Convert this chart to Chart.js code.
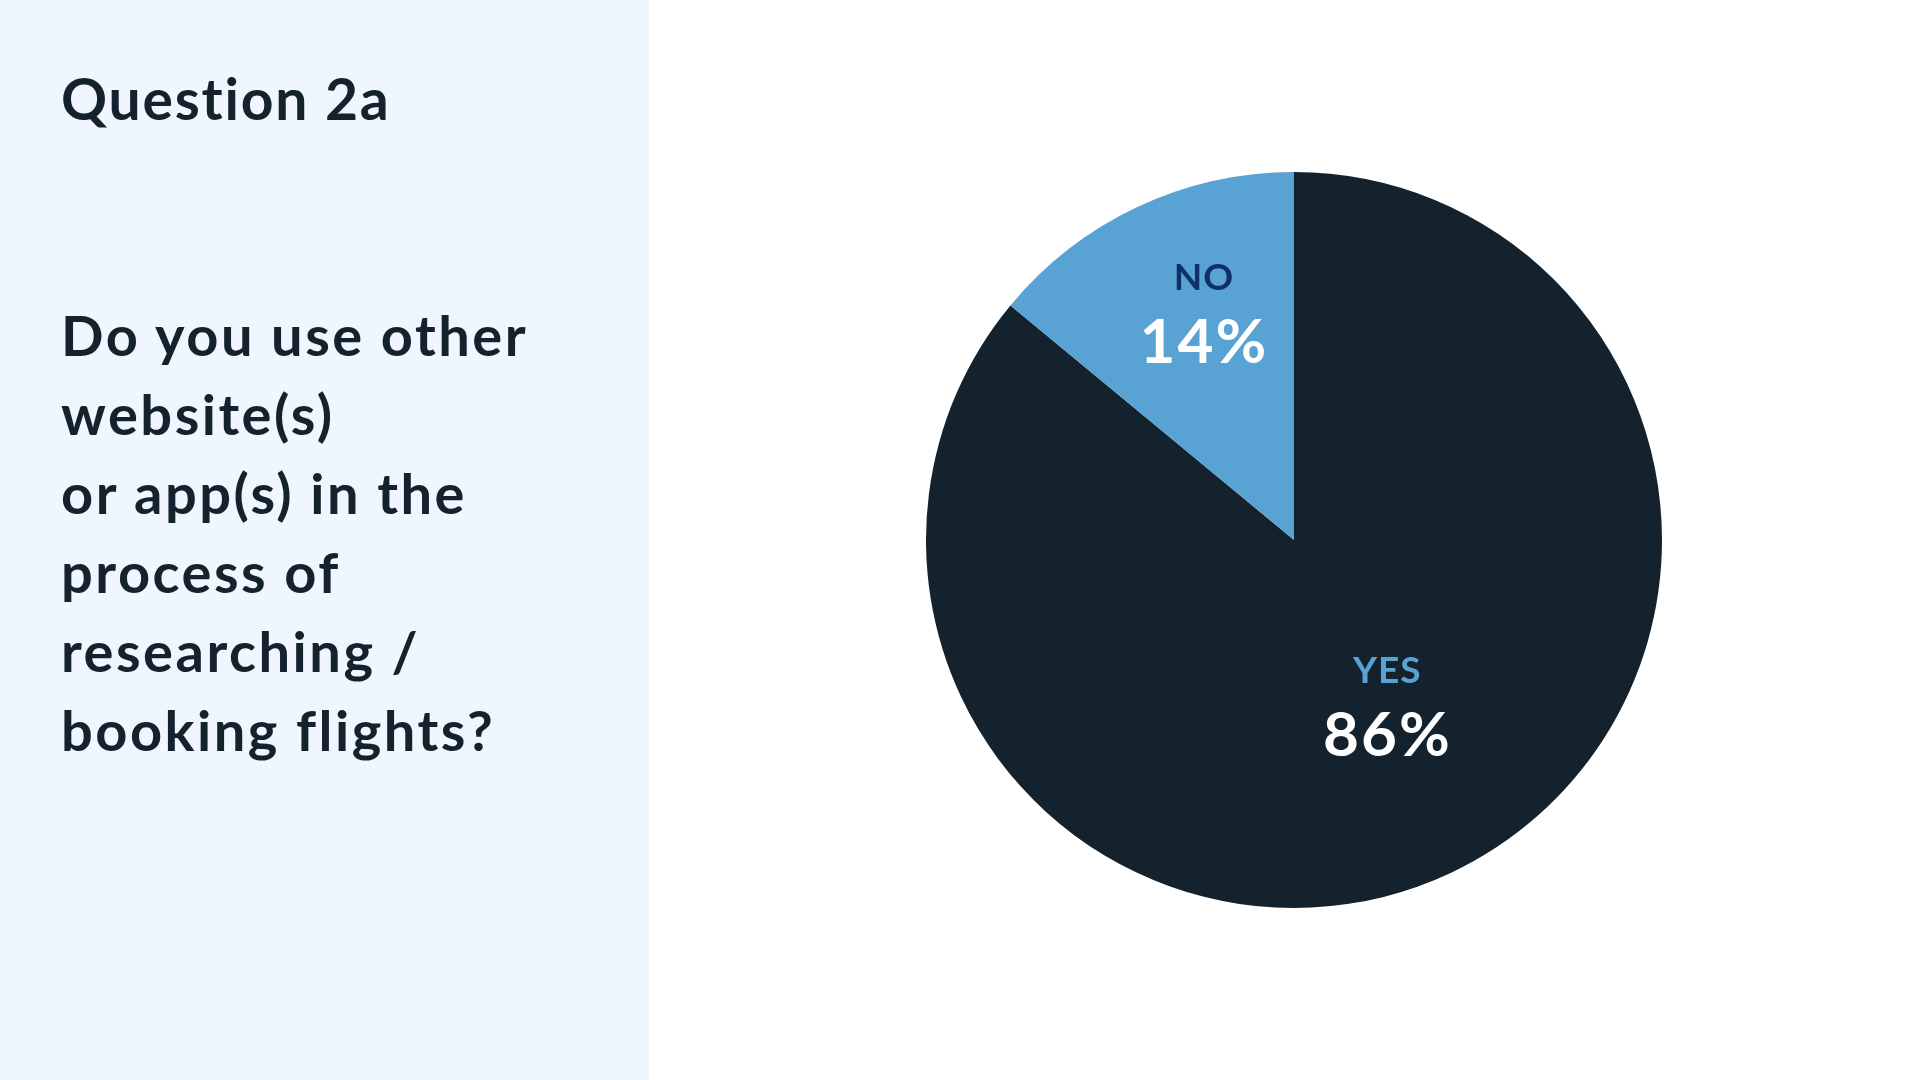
<!DOCTYPE html>
<html>
<head>
<meta charset="utf-8">
<script src="https://cdn.jsdelivr.net/npm/chart.js@4"></script>
<style>
  html, body { margin: 0; padding: 0; background: #ffffff; }
  body { width: 1920px; height: 1080px; position: relative; overflow: hidden; font-family: Lato, "Open Sans", sans-serif; color: #14222e; font-variant-ligatures: none; }
  .side { position: absolute; left: 0; top: 0; width: 649px; height: 1080px; background: #f0f6fd; }
  .title { position: absolute; left: 61px; top: 63px; font-size: 57px; font-weight: 700; line-height: 70px; margin: 0; letter-spacing: 1.8px; }
  .question { position: absolute; left: 61px; top: 295px; font-size: 56px; font-weight: 700; line-height: 79px; margin: 0; letter-spacing: 2.5px; }
  #pieChart { position: absolute; left: 926px; top: 172px; }
</style>
</head>
<body>
<div class="side">
  <h1 class="title">Question 2a</h1>
  <p class="question">Do you use other<br>website(s)<br>or app(s) in the<br>process of<br>researching /<br>booking flights?</p>
</div>
<canvas id="pieChart" width="736" height="736"></canvas>
<script>
const answers = ['YES', 'NO'];
const shares = [86, 14];
const sliceColors = ['#14222e', '#59a3d4'];
const nameColors = ['#59a3d4', '#10306a'];

// draws the answer name and the percent inside each slice
const sliceLabels = {
    id: 'sliceLabels',
    afterDatasetsDraw(chart, args, opts) {
        const ctx = chart.ctx;
        const meta = chart.getDatasetMeta(0);
        meta.data.forEach(function(arc, i) {
            const mid = (arc.startAngle + arc.endAngle) / 2 + opts.turn[i];
            const r = arc.outerRadius * opts.radius[i];
            const x = arc.x + Math.cos(mid) * r;
            const y = arc.y + Math.sin(mid) * r;
            ctx.save();
            ctx.textAlign = 'center';
            ctx.textBaseline = 'alphabetic';
            ctx.letterSpacing = '1px';
            ctx.font = '700 37px Lato';
            ctx.fillStyle = nameColors[i];
            ctx.fillText(chart.data.labels[i], x, y - 24);
            ctx.letterSpacing = '2px';
            ctx.font = '700 62px Lato';
            ctx.fillStyle = '#ffffff';
            ctx.fillText(chart.data.datasets[0].data[i] + '%', x, y + 49);
            ctx.restore();
        });
    }
};

new Chart(document.getElementById('pieChart').getContext('2d'), {
    type: 'pie',
    data: {
        labels: answers,
        datasets: [{
            data: shares,
            backgroundColor: sliceColors,
            borderWidth: 0
        }]
    },
    options: {
        responsive: false,
        animation: false,
        layout: { padding: 0 },
        plugins: {
            legend: { display: false },
            tooltip: { enabled: false },
            sliceLabels: { radius: [0.52, 0.66], turn: [-0.07, 0.06] }
        }
    },
    plugins: [sliceLabels]
});
</script>
</body>
</html>
